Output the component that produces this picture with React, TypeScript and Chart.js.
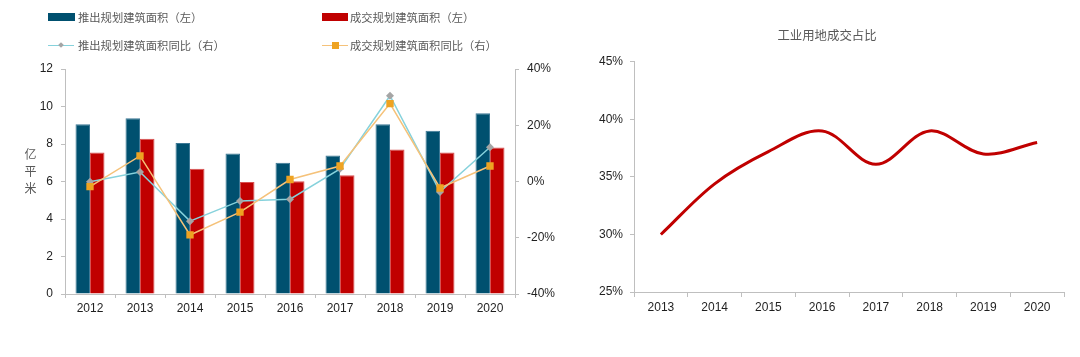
import React, { useEffect, useRef } from "react";
import { Chart, registerables } from "chart.js";

Chart.register(...registerables);

// ---- data ----
const years = ["2012", "2013", "2014", "2015", "2016", "2017", "2018", "2019", "2020"];
const supplyArea = [9.05, 9.37, 8.05, 7.5, 7.0, 7.39, 9.05, 8.71, 9.64];
const dealArea = [7.55, 8.28, 6.68, 5.97, 6.02, 6.34, 7.71, 7.55, 7.82];
const supplyYoY = [-0.1, 3.4, -14.1, -6.9, -6.3, 4.5, 30.5, -3.7, 12.2];
const dealYoY = [-1.8, 9.1, -19.0, -10.9, 0.7, 5.5, 27.7, -2.3, 5.5];

const indYears = ["2013", "2014", "2015", "2016", "2017", "2018", "2019", "2020"];
const indShare = [30, 34.4, 37.2, 39, 36.1, 39, 37, 38];

const legendLabels = ["推出规划建筑面积（左）", "成交规划建筑面积（左）", "推出规划建筑面积同比（右）", "成交规划建筑面积同比（右）"];
const yTitleChars = ["亿", "平", "米"];
const rightTitle = "工业用地成交占比";

// ---- styles ----
const BLUE = "#00506F";
const RED = "#C00000";
const CYAN = "#86D2DC";
const GRAY_MK = "#A5A5A5";
const ORANGE_LINE = "#F5C27A";
const ORANGE_MK = "#EEA322";
const AXIS = "#BFBFBF";
const TXT = "#1F1F1F";
const NUM_FONT = '"Liberation Sans", "Noto Sans CJK SC", sans-serif';
const CJK_FONT = '"Noto Sans CJK SC", "Liberation Sans", sans-serif';

function LeftChart() {
  const ref = useRef<HTMLCanvasElement | null>(null);
  useEffect(() => {
    if (!ref.current) return;
    const chart = new Chart(ref.current, {
      type: "bar",
      data: {
        labels: years,
        datasets: [
          {
            type: "line",
            label: legendLabels[3],
            data: dealYoY,
            yAxisID: "y1",
            borderColor: ORANGE_LINE,
            borderWidth: 1.5,
            pointStyle: "rect",
            pointRadius: 5.2,
            pointBackgroundColor: ORANGE_MK,
            pointBorderColor: ORANGE_MK,
            pointBorderWidth: 0,
            tension: 0,
            order: 0,
          },
          {
            type: "line",
            label: legendLabels[2],
            data: supplyYoY,
            yAxisID: "y1",
            borderColor: CYAN,
            borderWidth: 1.5,
            pointStyle: "rectRot",
            pointRadius: 4,
            pointBackgroundColor: GRAY_MK,
            pointBorderColor: GRAY_MK,
            pointBorderWidth: 0,
            tension: 0,
            order: 1,
          },
          {
            type: "bar",
            label: legendLabels[0],
            data: supplyArea,
            yAxisID: "y",
            backgroundColor: BLUE,
            borderColor: "#3C7895",
            borderWidth: 1,
            barPercentage: 1,
            categoryPercentage: 0.58,
            order: 2,
          },
          {
            type: "bar",
            label: legendLabels[1],
            data: dealArea,
            yAxisID: "y",
            backgroundColor: RED,
            borderColor: "#D85050",
            borderWidth: 1,
            barPercentage: 1,
            categoryPercentage: 0.58,
            order: 2,
          },
        ],
      },
      options: {
        responsive: false,
        animation: false,
        layout: { padding: { left: 0, right: 0, top: 69, bottom: 0 } },
        plugins: { legend: { display: false }, tooltip: { enabled: false }, title: { display: false } },
        scales: {
          x: {
            type: "category",
            offset: true,
            grid: { offset: true, drawOnChartArea: false, tickLength: 4, color: AXIS },
            border: { color: AXIS },
            ticks: { color: TXT, font: { family: NUM_FONT, size: 12 }, padding: 3, maxRotation: 0 },
            afterFit: (s: any) => {
              s.height = 63;
            },
          },
          y: {
            position: "left",
            min: 0,
            max: 12,
            ticks: { stepSize: 2, color: TXT, font: { family: NUM_FONT, size: 12 }, padding: 8 },
            grid: { drawOnChartArea: false, tickLength: 4, color: AXIS },
            border: { color: AXIS },
            afterFit: (s: any) => {
              s.width = 65;
            },
          },
          y1: {
            position: "right",
            min: -40,
            max: 40,
            ticks: {
              stepSize: 20,
              color: TXT,
              font: { family: NUM_FONT, size: 12 },
              padding: 8,
              callback: (v: any) => `${v}%`,
            },
            grid: { drawOnChartArea: false, tickLength: 4, color: AXIS },
            border: { color: AXIS },
            afterFit: (s: any) => {
              s.width = 61;
            },
          },
        },
      },
    } as any);
    return () => chart.destroy();
  }, []);
  return <canvas ref={ref} width={576} height={357} style={{ position: "absolute", left: 0, top: 0, display: "block" }} />;
}

function RightChart() {
  const ref = useRef<HTMLCanvasElement | null>(null);
  useEffect(() => {
    if (!ref.current) return;
    const chart = new Chart(ref.current, {
      type: "line",
      data: {
        labels: indYears,
        datasets: [
          {
            label: rightTitle,
            data: indShare,
            borderColor: RED,
            borderWidth: 3,
            pointRadius: 0,
            tension: 0.35,
            fill: false,
          },
        ],
      },
      options: {
        responsive: false,
        animation: false,
        layout: { padding: { left: 0, right: 16, top: 0, bottom: 0 } },
        plugins: {
          legend: { display: false },
          tooltip: { enabled: false },
          title: {
            display: true,
            text: rightTitle,
            color: "#595959",
            font: { family: CJK_FONT, size: 12.4, weight: "normal" },
            padding: { top: 28, bottom: 19 },
          },
        },
        scales: {
          x: {
            type: "category",
            offset: true,
            grid: { offset: true, drawOnChartArea: false, tickLength: 5, color: AXIS },
            border: { color: AXIS },
            ticks: { color: TXT, font: { family: NUM_FONT, size: 12 }, padding: 3, maxRotation: 0 },
            afterFit: (s: any) => {
              s.height = 65;
            },
          },
          y: {
            min: 25,
            max: 45,
            ticks: {
              stepSize: 5,
              color: TXT,
              font: { family: NUM_FONT, size: 12 },
              padding: 7,
              callback: (v: any) => `${v}%`,
            },
            grid: { drawOnChartArea: false, tickLength: 4, color: AXIS },
            border: { color: AXIS },
            afterFit: (s: any) => {
              s.width = 44;
            },
          },
        },
      },
    } as any);
    return () => chart.destroy();
  }, []);
  return <canvas ref={ref} width={490} height={357} style={{ position: "absolute", left: 590, top: 0, display: "block" }} />;
}

const legendText: React.CSSProperties = {
  position: "absolute",
  fontFamily: CJK_FONT,
  fontSize: 11.3,
  lineHeight: "14px",
  color: "#595959",
  whiteSpace: "nowrap",
};

function Legend() {
  return (
    <>
      {/* row 1 */}
      <div style={{ position: "absolute", left: 48, top: 13, width: 27, height: 8, background: BLUE }} />
      <div style={{ ...legendText, left: 78, top: 10 }}>{legendLabels[0]}</div>
      <div style={{ position: "absolute", left: 322, top: 13, width: 26, height: 8, background: RED }} />
      <div style={{ ...legendText, left: 350, top: 10 }}>{legendLabels[1]}</div>
      {/* row 2 */}
      <div style={{ position: "absolute", left: 48, top: 44.5, width: 26, height: 1.5, background: CYAN }} />
      <div
        style={{
          position: "absolute",
          left: 59,
          top: 43,
          width: 4,
          height: 4,
          background: GRAY_MK,
          transform: "rotate(45deg)",
        }}
      />
      <div style={{ ...legendText, left: 78, top: 38 }}>{legendLabels[2]}</div>
      <div style={{ position: "absolute", left: 322, top: 44.5, width: 26, height: 1.5, background: ORANGE_LINE }} />
      <div style={{ position: "absolute", left: 331.5, top: 41.5, width: 7, height: 7, background: ORANGE_MK }} />
      <div style={{ ...legendText, left: 350, top: 38 }}>{legendLabels[3]}</div>
    </>
  );
}

export default function App() {
  return (
    <div
      style={{
        position: "fixed",
        left: 0,
        top: 0,
        width: 1080,
        height: 357,
        background: "#ffffff",
        overflow: "hidden",
      }}
    >
      <LeftChart />
      <RightChart />
      <Legend />
      <div
        style={{
          position: "absolute",
          left: 24,
          top: 145,
          width: 13,
          fontFamily: CJK_FONT,
          fontSize: 12,
          lineHeight: "17px",
          color: "#595959",
          textAlign: "center",
        }}
      >
        {yTitleChars.map((c) => (
          <div key={c}>{c}</div>
        ))}
      </div>
    </div>
  );
}
